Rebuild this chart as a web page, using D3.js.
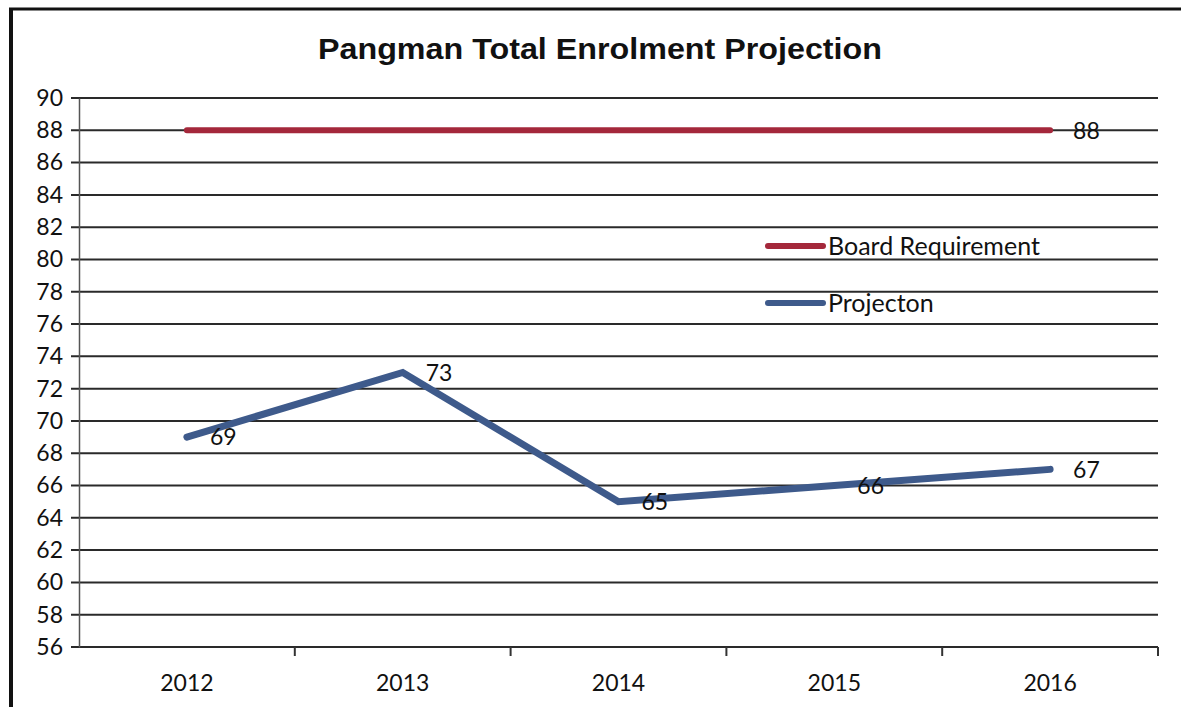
<!DOCTYPE html>
<html>
<head>
<meta charset="utf-8">
<script src="https://cdn.jsdelivr.net/npm/d3@7"></script>
<style>
  body { margin: 0; background: #fff; }
  svg { display: block; }
  .lbl { font-family: Lato, "Open Sans", sans-serif; font-size: 23px; fill: #111; }
</style>
</head>
<body>
<svg id="chart"></svg>
<script>
const years = ["2012", "2013", "2014", "2015", "2016"];
const projection = [69, 73, 65, 66, 67];
const boardRequirement = [88, 88, 88, 88, 88];
const yTicks = d3.range(56, 91, 2);

const width = 1181;
const height = 707;
const margin = { top: 98, right: 23, bottom: 60, left: 79 };

const svg = d3.select("#chart").attr("width", width).attr("height", height);

// frame
svg.append("line").attr("x1", 11).attr("x2", 11).attr("y1", 8).attr("y2", height)
  .attr("stroke", "#111").attr("stroke-width", 4);
svg.append("line").attr("x1", 9).attr("x2", width).attr("y1", 9).attr("y2", 9)
  .attr("stroke", "#111").attr("stroke-width", 3);

svg.append("text")
  .attr("x", 600).attr("y", 59)
  .attr("text-anchor", "middle")
  .attr("textLength", 564)
  .attr("lengthAdjust", "spacingAndGlyphs")
  .style("font-family", "'Liberation Sans', Arial, sans-serif")
  .style("font-weight", "bold")
  .style("font-size", "29px")
  .style("fill", "#111")
  .text("Pangman Total Enrolment Projection");

const x = d3.scaleBand().domain(years).range([margin.left, width - margin.right]);
const y = d3.scaleLinear().domain([56, 90]).range([height - margin.bottom, margin.top]);
const cx = (d) => x(d) + x.bandwidth() / 2;

// gridlines
svg.append("g")
  .selectAll("line")
  .data(yTicks)
  .join("line")
  .attr("x1", margin.left - 8)
  .attr("x2", width - margin.right)
  .attr("y1", (d) => y(d))
  .attr("y2", (d) => y(d))
  .attr("stroke", "#2a2a2a")
  .attr("stroke-width", 2);

// y axis
const yAxis = svg.append("g")
  .attr("transform", `translate(${margin.left},0)`)
  .call(d3.axisLeft(y).tickValues(yTicks).tickSize(0).tickPadding(16));
yAxis.select(".domain").attr("stroke", "#555").attr("stroke-width", 1.5);
yAxis.selectAll("text").attr("class", "lbl").attr("fill", null);

// x axis
const xAxis = svg.append("g")
  .attr("transform", `translate(0,${y(56)})`)
  .call(d3.axisBottom(x).tickSize(0).tickPadding(28));
xAxis.select(".domain").remove();
xAxis.selectAll("text").attr("class", "lbl").attr("fill", null);

svg.append("g")
  .selectAll("line")
  .data(years.slice(1).concat(["end"]))
  .join("line")
  .attr("x1", (d) => (d === "end" ? width - margin.right : x(d)))
  .attr("x2", (d) => (d === "end" ? width - margin.right : x(d)))
  .attr("y1", y(56))
  .attr("y2", y(56) + 9)
  .attr("stroke", "#333")
  .attr("stroke-width", 2);

const line = d3.line().x((d, i) => cx(years[i])).y((d) => y(d));

svg.append("path")
  .datum(boardRequirement)
  .attr("d", line)
  .attr("fill", "none")
  .attr("stroke", "#a4283b")
  .attr("stroke-width", 6)
  .attr("stroke-linecap", "round");

svg.append("path")
  .datum(projection)
  .attr("d", line)
  .attr("fill", "none")
  .attr("stroke", "#3e5a8b")
  .attr("stroke-width", 7)
  .attr("stroke-linecap", "round")
  .attr("stroke-linejoin", "miter");

// data labels
svg.append("g")
  .selectAll("text")
  .data(projection)
  .join("text")
  .attr("class", "lbl")
  .attr("x", (d, i) => cx(years[i]) + 23)
  .attr("y", (d) => y(d))
  .attr("dy", "0.36em")
  .text((d) => d);

svg.append("text")
  .attr("class", "lbl")
  .attr("x", cx(years[4]) + 23)
  .attr("y", y(boardRequirement[4]))
  .attr("dy", "0.36em")
  .text(boardRequirement[4]);

// legend
const legend = [
  { name: "Board Requirement", color: "#a4283b", yy: 246 },
  { name: "Projecton", color: "#3e5a8b", yy: 303 },
];
const lg = svg.append("g").selectAll("g").data(legend).join("g")
  .attr("transform", (d) => `translate(768,${d.yy})`);
lg.append("line").attr("x1", 0).attr("x2", 55)
  .attr("stroke", (d) => d.color).attr("stroke-width", 6).attr("stroke-linecap", "round");
lg.append("text").attr("class", "lbl").attr("x", 60).attr("dy", "0.36em")
  .style("font-size", "25px").text((d) => d.name);
</script>
</body>
</html>
